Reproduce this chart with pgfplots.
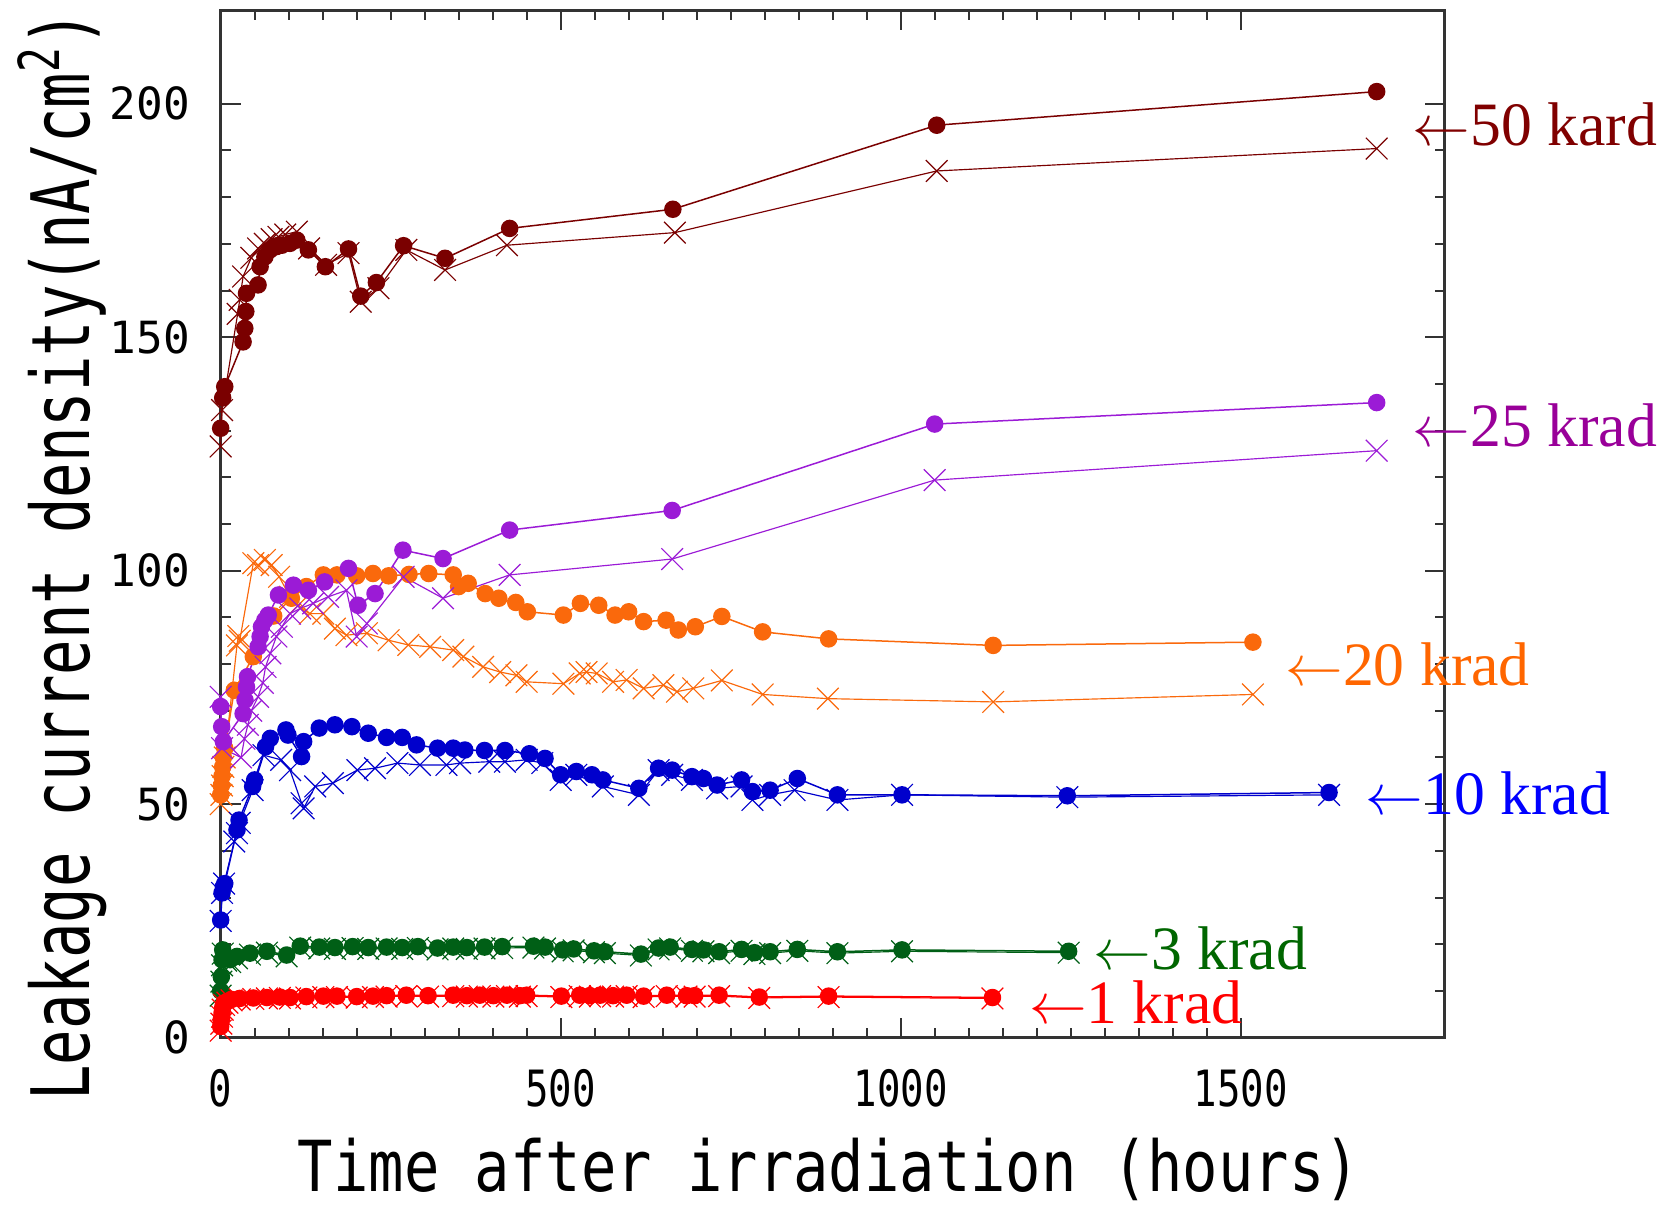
\documentclass[border=0pt]{standalone}
\usepackage{fontspec}
\usepackage{graphicx}
\usepackage{pgfplots}
\pgfplotsset{compat=1.18}
\setmainfont{Liberation Serif}
\newfontfamily\gothic{DejaVu Sans Mono}
\definecolor{c50}{RGB}{122,0,0}
\definecolor{c50t}{RGB}{128,0,0}
\definecolor{c25}{RGB}{155,27,214}
\definecolor{c25t}{RGB}{153,0,153}
\definecolor{c20}{RGB}{250,105,12}
\definecolor{c20t}{RGB}{255,102,0}
\definecolor{c10}{RGB}{0,0,204}
\definecolor{c10t}{RGB}{0,0,255}
\definecolor{c3}{RGB}{0,95,22}
\definecolor{c3t}{RGB}{0,102,0}
\definecolor{c1}{RGB}{255,0,0}
\pgfplotsset{
  circ/.style={mark=*, mark size=2.4pt, line width=0.45pt, mark options={solid}},
  crs/.style={mark=x, mark size=4.6pt, line width=0.35pt, mark options={solid}},
}
\begin{document}
\begin{tikzpicture}
\begin{axis}[
  at={(0,0)}, anchor=south west,
  width=367.2pt, height=308.2pt, scale only axis,
  xmin=0, xmax=1800, ymin=0, ymax=220,
  xtick={0,500,1000,1500},
  xticklabels={{\scalebox{0.78}[1]{0}},{\scalebox{0.78}[1]{500}},{\scalebox{0.78}[1]{1000}},{\scalebox{0.78}[1]{1500}}},
  ytick={0,50,100,150,200},
  yticklabels={0,50,100,150,200},
  minor x tick num=9, minor y tick num=4,
  tick align=inside,
  major tick length=6pt, minor tick length=3pt,
  axis line style={black!80, line width=0.75pt},
  every tick/.style={black!80, line width=0.6pt},
  xticklabel style={anchor=north, inner sep=0pt, yshift=-9.2pt, font=\gothic\fontsize{15}{15}\selectfont},
  yticklabel style={anchor=east, inner sep=0pt, xshift=-9pt, font=\gothic\fontsize{13.3}{13.3}\selectfont},
  clip=false,
]
% ---------------- 50 krad ----------------
\addplot[c50, crs] coordinates {
(0,126.6)(2,134.4)(25,155)(28,158)(33,163)(45,167)(55,169)(65,170)(75,171)(85,171.5)(95,172)(112,172.6)(130,169)(155,165.5)(188,168)(206,157.6)(232,160.5)(273,168.7)(330,164.4)(421,169.7)(668,172.4)(1053,185.6)(1700,190.4)};
\addplot[c50, circ] coordinates {
(0,130.5)(3,137)(6,139.4)(33,149)(35.5,151.9)(37,155.5)(38,159.4)(55,161.2)(58,165.1)(65,167.2)(72.5,168.7)(82,169.4)(90,169.7)(102,170.1)(112,170.8)(129,168.7)(154,165.1)(188,168.9)(206,158.8)(229,161.7)(269,169.6)(330,166.9)(425,173.3)(665,177.4)(1053,195.4)(1700,202.6)};
% ---------------- 20 krad ----------------
\addplot[c20, crs] coordinates {
(0,50)(1,52)(2,54)(3,56)(4,58)(6,60)(24,84)(26,86)(28,85)(48,101.6)(55,101.2)(65,102.3)(75,101.2)(86,98.7)(102,94.4)(114,92.6)(131,90.8)(151,90.8)(168,87.6)(185,86.2)(215,86.6)(247,85.1)(276,84.1)(308,83.7)(342,83)(357,81.6)(386,79.4)(411,78.3)(435,77.6)(450,76.2)(504,75.8)(528,78)(538,78.3)(553,78)(577,76.2)(597,76.6)(622,74.8)(651,75.5)(671,74.1)(695,74.8)(737,76.5)(797,73.5)(893,72.6)(1136,71.9)(1518,73.5)};
\addplot[c20, circ] coordinates {
(0,52)(1,54)(2,56)(3,58)(4,60)(6,62)(20,74.4)(48,81.6)(78,90.3)(104,94.1)(126,96.6)(151,99.1)(171,99.1)(200,98.9)(224,99.4)(247,98.9)(277,99.2)(306,99.4)(342,99.1)(350,96.6)(364,97.3)(389,95.1)(409,94.1)(434,93.2)(451,91.2)(504,90.5)(529,93)(556,92.6)(580,90.5)(600,91.2)(622,89.1)(655,89.4)(673,87.3)(698,88)(737,90.2)(797,86.9)(894,85.4)(1136,84)(1518,84.7)};
% ---------------- 25 krad ----------------
\addplot[c25, crs] coordinates {
(0,73)(2,62)(30,60)(35,64)(40,67)(45,70)(55,73)(62,76)(66,79.4)(73,82.3)(82,85.9)(90,88)(102,90.8)(117,91.9)(136,93)(158,94.4)(185,95.8)(200,85.9)(215,88.7)(269,98.7)(327,94.1)(425,99.1)(664,102.5)(1050,119.4)(1700,125.7)};
\addplot[c25, circ] coordinates {
(0,70.9)(1.5,66.6)(4,63.4)(33,69.4)(35.8,72.3)(38,75.1)(39.5,77.3)(55,83.7)(58,85.9)(60,88)(65,89.4)(70,90.5)(85,94.8)(107,96.9)(129,95.8)(153,97.6)(188,100.5)(202,92.6)(227,95.1)(268,104.4)(327,102.6)(425,108.7)(664,112.9)(1050,131.4)(1700,136)};
% ---------------- 10 krad ----------------
\addplot[c10, crs] coordinates {
(0,25)(2,31)(5,33)(20,42)(24,43.8)(28,46)(47,53)(63,60.5)(89,59.5)(102,57.3)(119,50.2)(122,49.1)(139,53.8)(165,54.5)(201,57.3)(227,57.7)(260,58.8)(293,58.4)(332,58.4)(352,58.8)(395,59.1)(418,59.1)(450,59.5)(473,58.8)(500,55.2)(523,56.3)(562,53.8)(615,52)(644,57.3)(664,56.3)(693,55.2)(730,53.4)(766,53.8)(782,50.9)(808,52)(844,53)(907,50.9)(1002,52)(1245,51.5)(1630,52)};
\addplot[c10, circ] coordinates {
(0,25.2)(2,31)(4,32.3)(6,33)(24,44.5)(27,46.6)(47,53.8)(50,55.2)(66,62.3)(73,64.1)(96,65.9)(99,64.8)(119,60.2)(122,63.4)(145,66.3)(168,67)(193,66.6)(217,65.2)(244,64.3)(267,64.3)(288,62.7)(319,62)(342,62)(359,61.6)(388,61.5)(418,61.5)(454,60.8)(477,59.8)(500,56.3)(523,57)(546,56.3)(562,55.2)(615,53.4)(644,57.7)(664,57.3)(693,55.9)(710,55.5)(730,54.1)(766,55.2)(782,52.7)(808,53)(848,55.5)(907,52)(1002,52)(1245,51.8)(1630,52.5)};
% ---------------- 3 krad ----------------
\addplot[c3, crs] coordinates {
(0,9)(1,12)(2,15.5)(3,18)(8,16.5)(14,16.2)(24,17)(43,17.8)(68,18.2)(97,17.4)(117,19.3)(145,19.1)(168,19)(194,19.2)(217,19)(244,19.1)(267,19)(290,19.2)(319,18.9)(342,19.1)(362,19)(388,19.1)(414,19.2)(460,19.3)(477,19.1)(503,18.5)(519,18.7)(549,18.3)(565,18.1)(618,17.6)(644,18.9)(661,19.1)(693,18.6)(710,18.5)(733,18.1)(766,18.6)(785,17.9)(808,18.1)(848,18.6)(907,18.1)(1002,18.5)(1247,18.2)};
\addplot[c3, circ] coordinates {
(0,10)(1,13)(2,16.7)(3,18.8)(8,17)(14,16.7)(24,17.4)(43,18.1)(68,18.5)(97,17.7)(117,19.6)(145,19.4)(168,19.3)(194,19.5)(217,19.3)(244,19.4)(267,19.3)(290,19.5)(319,19.2)(342,19.4)(362,19.3)(388,19.4)(414,19.5)(460,19.6)(477,19.4)(503,18.8)(519,19)(549,18.6)(565,18.4)(618,17.9)(644,19.2)(661,19.4)(693,18.9)(710,18.8)(733,18.4)(766,18.9)(785,18.2)(808,18.4)(848,18.9)(907,18.4)(1002,18.8)(1247,18.5)};
% ---------------- 1 krad ----------------
\addplot[c1, crs] coordinates {
(0,1.5)(1,3)(2,4.5)(3,6)(5,7)(10,7.5)(16,8)(28,8.2)(48,8.3)(68,8.4)(87,8.5)(102,8.4)(126,8.6)(151,8.7)(171,8.7)(200,8.6)(224,8.7)(244,8.8)(273,8.9)(305,8.8)(342,8.9)(362,8.8)(381,8.9)(401,8.8)(421,8.9)(440,8.8)(450,8.9)(501,8.7)(528,8.9)(543,8.8)(558,8.9)(577,8.8)(597,8.9)(622,8.7)(656,8.9)(685,8.8)(697,8.8)(733,8.9)(792,8.5)(894,8.7)(1135,8.4)};
\addplot[c1, circ] coordinates {
(0,2.4)(1,4)(2,5.3)(3,6.5)(5,7.4)(10,7.8)(16,8.2)(28,8.4)(48,8.5)(68,8.6)(87,8.7)(102,8.6)(126,8.8)(151,8.9)(171,8.9)(200,8.8)(224,8.9)(244,9)(273,9.1)(305,9)(342,9.1)(362,9)(381,9.1)(401,9)(421,9.1)(440,9)(450,9.1)(501,8.9)(528,9.1)(543,9)(558,9.1)(577,9)(597,9.1)(622,8.9)(656,9.1)(685,9)(697,9)(733,9.1)(792,8.7)(894,8.9)(1135,8.6)};
% ---------------- labels ----------------
\node[anchor=base west, inner sep=0pt, text=c50t, font=\fontsize{18.5}{18.5}\selectfont] at (axis cs:1752,191.1) {$\leftarrow$50 kard};
\node[anchor=base west, inner sep=0pt, text=c25t, font=\fontsize{18.5}{18.5}\selectfont] at (axis cs:1752,126.6) {$\leftarrow$25 krad};
\node[anchor=base west, inner sep=0pt, text=c20t, font=\fontsize{18.5}{18.5}\selectfont] at (axis cs:1565,75.4) {$\leftarrow$20 krad};
\node[anchor=base west, inner sep=0pt, text=c10t, font=\fontsize{18.5}{18.5}\selectfont] at (axis cs:1683,47.7) {$\leftarrow$10 krad};
\node[anchor=base west, inner sep=0pt, text=c3t, font=\fontsize{18.5}{18.5}\selectfont] at (axis cs:1283,14.6) {$\leftarrow$3 krad};
\node[anchor=base west, inner sep=0pt, text=c1, font=\fontsize{18.5}{18.5}\selectfont] at (axis cs:1188,3.1) {$\leftarrow$1 krad};
\node[anchor=center, inner sep=0pt] at ([yshift=-39.6pt]rel axis cs:0.497,0) {\gothic\fontsize{21.1}{21.1}\selectfont\scalebox{0.836}[1]{Time after irradiation (hours)}};
\node[anchor=center, inner sep=0pt, rotate=90] at ([xshift=-47.6pt]rel axis cs:0,0.469) {\gothic\fontsize{24.2}{24.2}\selectfont\scalebox{0.73}[1]{Leakage current density(nA/cm\textsuperscript{2})}};
\end{axis}
\pgfresetboundingbox
\path (-66.2pt,-50.2pt) rectangle (436.3pt,311.3pt);
\end{tikzpicture}
\end{document}
